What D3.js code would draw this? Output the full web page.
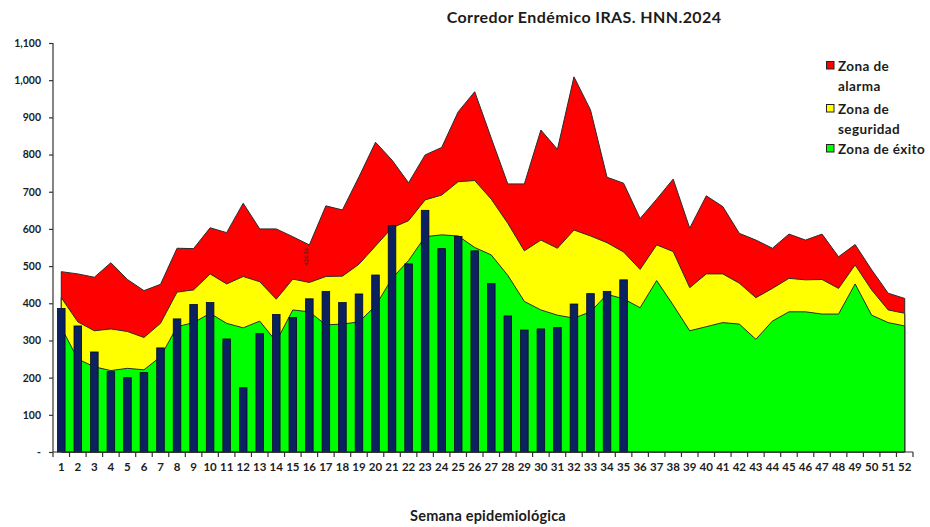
<!DOCTYPE html>
<html>
<head>
<meta charset="utf-8">
<script src="https://cdn.jsdelivr.net/npm/d3@7"></script>
<style>
  body { margin: 0; background: #fff; }
  svg { display: block; font-family: Lato, "Open Sans", sans-serif; }
  .tick-label { font-weight: bold; fill: #1c1c1c; }
</style>
</head>
<body>
<svg width="930" height="527"></svg>
<script>
var weeks = d3.range(1, 53);

// casos 2024 (semanas 1-35)
var casos = [386, 339, 269, 216, 200, 214, 280, 358, 397, 402, 304, 173, 319, 370, 362, 412, 432, 402, 425, 476,
  609, 506, 650, 547, 580, 541, 453, 366, 328, 331, 335, 398, 426, 432, 463];

// upper limit of each zone
var alarma = [485, 479, 470, 509, 464, 434, 451, 548, 547, 603, 590, 669, 600, 600, 579, 557, 662, 651, 740, 833,
  785, 724, 799, 819, 915, 969, 844, 721, 721, 866, 814, 1009, 920, 739, 723, 628, 680, 734, 602, 689,
  660, 588, 570, 548, 586, 570, 586, 525, 558, 490, 427, 413];
var seguridad = [415, 350, 326, 331, 324, 308, 346, 430, 436, 479, 452, 472, 458, 411, 465, 456, 472, 473, 505, 554,
  603, 622, 678, 691, 727, 730, 680, 615, 541, 570, 548, 597, 581, 563, 538, 491, 557, 539, 442, 479,
  479, 454, 415, 440, 467, 463, 464, 440, 503, 436, 382, 373];
var exito = [335, 250, 229, 219, 225, 221, 256, 337, 348, 373, 346, 334, 352, 297, 382, 377, 342, 344, 350, 393,
  467, 515, 579, 584, 581, 550, 530, 475, 405, 382, 368, 360, 377, 424, 412, 388, 461, 395, 326, 337,
  348, 344, 303, 352, 377, 377, 371, 371, 452, 368, 348, 339];

var yTicks = d3.range(0, 1101, 100);
var zoneNames = ["Zona de alarma", "Zona de seguridad", "Zona de éxito"];
var zoneColors = ["#ff0000", "#ffff00", "#00ff00"];

var svg = d3.select("svg");

var x = d3.scaleBand().domain(weeks).range([53, 913]).padding(0);
var y = d3.scaleLinear().domain([0, 1100]).range([452, 43]);
var bw = x.bandwidth();
function cx(w) { return x(w) + bw / 2; }

// zones, drawn over each other from the top one down
var zones = [alarma, seguridad, exito];
zones.forEach(function(vals, i) {
  var area = d3.area()
    .x(function(d, j) { return cx(weeks[j]); })
    .y0(y(0))
    .y1(function(d) { return y(d); });
  svg.append("path")
    .datum(vals)
    .attr("d", area)
    .attr("fill", zoneColors[i])
    .attr("stroke", "#2b2b2b")
    .attr("stroke-width", 1);
});

// bars
svg.append("g")
  .selectAll("rect")
  .data(casos)
  .enter().append("rect")
    .attr("x", function(d, i) { return cx(weeks[i]) - 3.8; })
    .attr("y", function(d) { return y(d); })
    .attr("width", 7.6)
    .attr("height", function(d) { return y(0) - y(d); })
    .attr("fill", "#0b2160")
    .attr("stroke", "#050a1e")
    .attr("stroke-width", 0.8);

// tiny label that sits in the chart at week 16
svg.append("text")
  .attr("transform", "translate(" + (cx(16) - 1) + "," + y(525) + ") rotate(-90)")
  .attr("text-anchor", "middle")
  .attr("font-size", 5.5)
  .attr("fill", "#222")
  .text("426.36");

// y axis
var yAxis = d3.axisLeft(y)
  .tickValues(yTicks)
  .tickSize(4)
  .tickPadding(8)
  .tickFormat(function(d) { return d === 0 ? "-" : d3.format(",")(d); });
var gy = svg.append("g").attr("transform", "translate(53,0)").call(yAxis);
gy.select(".domain").attr("stroke", "#333").attr("stroke-width", 1.2).attr("d", "M0," + y(1100) + "V" + y(0));
gy.selectAll(".tick line").attr("stroke", "#333").attr("stroke-width", 1.2);
gy.selectAll(".tick text").attr("class", "tick-label").attr("font-size", 10.5).attr("font-family", "Lato, sans-serif");

// x axis: ticks sit between the weeks
var gx = svg.append("g").attr("transform", "translate(0," + y(0) + ")");
gx.append("line")
  .attr("x1", 53).attr("x2", 913)
  .attr("stroke", "#333").attr("stroke-width", 1.2);
gx.selectAll(".xt")
  .data(weeks.concat([53]))
  .enter().append("line")
    .attr("x1", function(d) { return d === 53 ? 913 : x(d); })
    .attr("x2", function(d) { return d === 53 ? 913 : x(d); })
    .attr("y1", 0).attr("y2", 5)
    .attr("stroke", "#333").attr("stroke-width", 1.2);
gx.selectAll(".xl")
  .data(weeks)
  .enter().append("text")
    .attr("class", "tick-label")
    .attr("x", function(d) { return cx(d); })
    .attr("y", 19)
    .attr("text-anchor", "middle")
    .attr("font-size", 11.5)
    .text(function(d) { return d; });

// titles
svg.append("text")
  .attr("x", 584).attr("y", 23)
  .attr("text-anchor", "middle")
  .attr("font-weight", "bold").attr("font-size", 16).attr("letter-spacing", 0.4).attr("fill", "#1c1c1c")
  .text("Corredor Endémico IRAS. HNN.2024");

svg.append("text")
  .attr("x", 488).attr("y", 521)
  .attr("text-anchor", "middle")
  .attr("font-weight", "bold").attr("font-size", 14.5).attr("letter-spacing", 0.2).attr("fill", "#1c1c1c")
  .text("Semana epidemiológica");

// legend
var legendRows = [
  { lines: ["Zona de", "alarma"], y: 61 },
  { lines: ["Zona de", "seguridad"], y: 104 },
  { lines: ["Zona de éxito"], y: 144 }
];
var lg = svg.append("g");
legendRows.forEach(function(r, i) {
  lg.append("rect")
    .attr("x", 826.5).attr("y", r.y + 0.5)
    .attr("width", 7.5).attr("height", 7.5)
    .attr("fill", zoneColors[i])
    .attr("stroke", "#222").attr("stroke-width", 1);
  r.lines.forEach(function(t, k) {
    lg.append("text")
      .attr("x", 838).attr("y", r.y + 9.5 + k * 20)
      .attr("font-weight", "bold").attr("font-size", 13.5).attr("letter-spacing", 0.4).attr("fill", "#1c1c1c")
      .text(t);
  });
});
</script>
</body>
</html>
